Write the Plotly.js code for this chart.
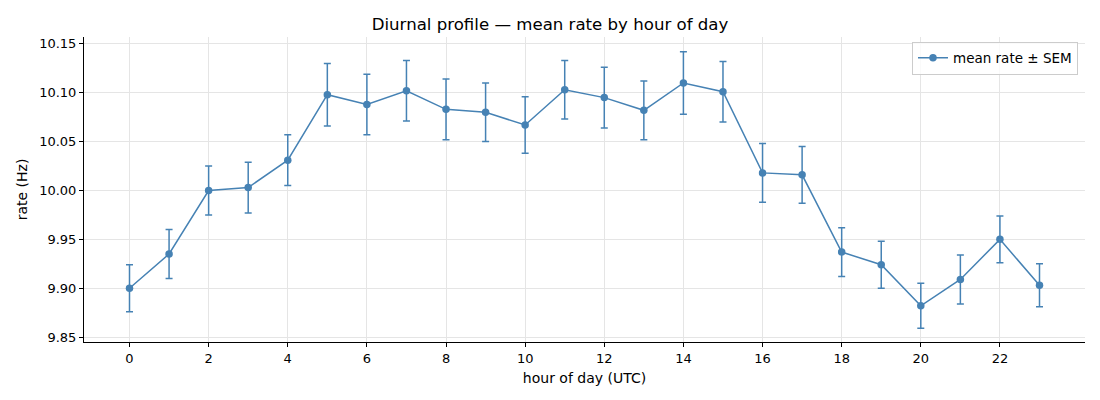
<!DOCTYPE html>
<html>
<head>
<meta charset="utf-8">
<script src="https://cdn.plot.ly/plotly-3.0.1.min.js"></script>
<style>
  html, body { margin: 0; padding: 0; background: #fff; }
  #plot_diurnal { width: 1100px; height: 400px; }
</style>
</head>
<body>
<div id="plot_diurnal"></div>
<script>
// hour of day (UTC)
var hours = [0, 1, 2, 3, 4, 5, 6, 7, 8, 9, 10, 11,
             12, 13, 14, 15, 16, 17, 18, 19, 20, 21, 22, 23];
// mean rate (Hz) per hour
var mean_rate = [9.900, 9.935, 10.000, 10.003, 10.031, 10.098, 10.088, 10.102,
                 10.083, 10.080, 10.067, 10.103, 10.095, 10.082, 10.110, 10.101,
                 10.018, 10.016, 9.937, 9.924, 9.882, 9.909, 9.950, 9.903];
// standard error of the mean per hour
var sem = [0.024, 0.025, 0.025, 0.026, 0.026, 0.032, 0.031, 0.031,
           0.031, 0.030, 0.029, 0.030, 0.031, 0.030, 0.032, 0.031,
           0.030, 0.029, 0.025, 0.024, 0.023, 0.025, 0.024, 0.022];
var x_ticks = [0, 2, 4, 6, 8, 10, 12, 14, 16, 18, 20, 22];
var y_ticks = [9.85, 9.90, 9.95, 10.00, 10.05, 10.10, 10.15];

var col = '#4682b4';

var trace = {
  x: hours,
  y: mean_rate,
  error_y: {
    type: 'data',
    array: sem,
    visible: true,
    color: col,
    thickness: 1.5,
    width: 3.5
  },
  mode: 'lines+markers',
  type: 'scatter',
  name: 'mean rate ± SEM',
  line: {color: col, width: 1.5},
  marker: {color: col, size: 7.5}
};

var layout = {
  width: 1100,
  height: 400,
  font: {family: 'DejaVu Sans, sans-serif', size: 13, color: '#000'},
  paper_bgcolor: '#fff',
  plot_bgcolor: '#fff',
  margin: {l: 84, r: 15, t: 37, b: 58},
  title: {
    text: 'Diurnal profile — mean rate by hour of day',
    font: {size: 16.6, color: '#000'},
    x: 0.5,
    xanchor: 'center',
    y: 0.94,
    yanchor: 'middle'
  },
  showlegend: true,
  legend: {
    x: 0.993, y: 0.985,
    xanchor: 'right', yanchor: 'top',
    bgcolor: 'rgba(255,255,255,0.8)',
    bordercolor: '#cccccc',
    borderwidth: 1,
    font: {size: 13.5}
  },
  xaxis: {
    title: {text: 'hour of day (UTC)', font: {size: 14}, standoff: 8},
    range: [-1.15, 24.15],
    tickvals: x_ticks,
    ticks: 'outside',
    ticklen: 4,
    tickcolor: '#000',
    tickfont: {size: 13},
    showline: true,
    linecolor: '#000',
    linewidth: 1,
    showgrid: true,
    gridcolor: '#e5e5e5',
    zeroline: false
  },
  yaxis: {
    title: {text: 'rate (Hz)', font: {size: 14}, standoff: 8},
    range: [9.845, 10.157],
    tickvals: y_ticks,
    tickformat: '.2f',
    ticks: 'outside',
    ticklen: 4,
    tickcolor: '#000',
    tickfont: {size: 13},
    showline: true,
    linecolor: '#000',
    linewidth: 1,
    showgrid: true,
    gridcolor: '#e5e5e5',
    zeroline: false
  }
};

Plotly.newPlot('plot_diurnal', [trace], layout, {displayModeBar: false, staticPlot: true});
</script>
</body>
</html>
